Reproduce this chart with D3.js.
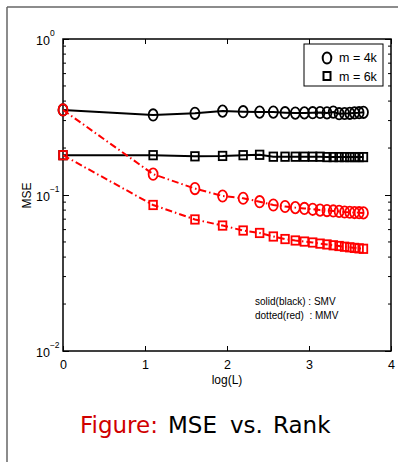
<!DOCTYPE html>
<html><head><meta charset="utf-8">
<script src="https://cdn.jsdelivr.net/npm/d3@7"></script>
<style>body{margin:0;background:#fff}svg{display:block}</style>
</head><body>
<svg id="c" width="398" height="462"></svg>
<script>
// log(L) for L = 1,3,5,...,39
const logL = [0, 1.099, 1.609, 1.946, 2.197, 2.398, 2.565, 2.708, 2.833, 2.944, 3.045, 3.135, 3.219, 3.296, 3.367, 3.434, 3.497, 3.555, 3.611, 3.664];
const smv4k = [0.351, 0.326, 0.334, 0.345, 0.342, 0.340, 0.340, 0.337, 0.335, 0.336, 0.337, 0.338, 0.336, 0.340, 0.332, 0.333, 0.334, 0.336, 0.337, 0.339];
const smv6k = [0.180, 0.180, 0.177, 0.178, 0.180, 0.181, 0.176, 0.176, 0.176, 0.176, 0.176, 0.176, 0.175, 0.175, 0.175, 0.175, 0.175, 0.175, 0.175, 0.175];
const mmv4k = [0.351, 0.136, 0.110, 0.0985, 0.0953, 0.0906, 0.0863, 0.0844, 0.0830, 0.0820, 0.0810, 0.0800, 0.0795, 0.0790, 0.0785, 0.0778, 0.0775, 0.0772, 0.0770, 0.0768];
const mmv6k = [0.180, 0.0863, 0.0697, 0.0637, 0.0592, 0.0571, 0.0542, 0.0522, 0.0511, 0.0503, 0.0496, 0.0488, 0.0482, 0.0476, 0.0471, 0.0466, 0.0462, 0.0458, 0.0455, 0.0452];
const xTicks = [0, 1, 2, 3, 4];
const yMajor = [0.01, 0.1, 1];
const yExp = ["−2", "−1", "0"];
const legendLabels = ["m = 4k", "m = 6k"];
const noteLines = ["solid(black) : SMV", "dotted(red)  : MMV"];
const captionWords = ["Figure:", "MSE", "vs.", "Rank"];

const svg = d3.select("#c");
const L = 63, R = 391, T = 39, B = 351;
const x = d3.scaleLinear().domain([0, 4]).range([L, R]);
const y = d3.scaleLog().domain([0.01, 1]).range([B, T]);
const font = "'Liberation Sans', Arial, sans-serif";

// outer beamer frame
svg.append("line").attr("x1", 7).attr("y1", 7).attr("x2", 398).attr("y2", 7).attr("stroke", "#666").attr("stroke-width", 1.5);
svg.append("line").attr("x1", 7).attr("y1", 7).attr("x2", 7).attr("y2", 462).attr("stroke", "#666").attr("stroke-width", 1.5);

// plot frame
svg.append("rect").attr("x", L).attr("y", T).attr("width", R - L).attr("height", B - T)
  .attr("fill", "none").attr("stroke", "#000").attr("stroke-width", 1.5);

// x axis
const gx = svg.append("g").attr("transform", `translate(0,${B})`)
  .call(d3.axisBottom(x).tickValues(xTicks).tickFormat(d3.format("d")).tickSize(-5).tickPadding(9));
gx.select(".domain").remove();
gx.selectAll("text").attr("font-family", font).attr("font-size", 12.5).attr("fill", "#000");
gx.selectAll("line").attr("stroke-width", 1);
const gxt = svg.append("g").attr("transform", `translate(0,${T})`)
  .call(d3.axisTop(x).tickValues(xTicks).tickFormat("").tickSize(-5));
gxt.select(".domain").remove();

// y axis major
const gy = svg.append("g").attr("transform", `translate(${L},0)`)
  .call(d3.axisLeft(y).tickValues(yMajor).tickFormat("").tickSize(-6));
gy.select(".domain").remove();
const gyr = svg.append("g").attr("transform", `translate(${R},0)`)
  .call(d3.axisRight(y).tickValues(yMajor).tickFormat("").tickSize(-6));
gyr.select(".domain").remove();

// minor ticks
const minor = [];
[0.01, 0.1].forEach(b => { for (let k = 2; k <= 9; k++) minor.push(b * k); });
svg.append("g").selectAll("line").data(minor).join("line")
  .attr("x1", L).attr("x2", L + 3).attr("y1", d => y(d)).attr("y2", d => y(d)).attr("stroke", "#000");
svg.append("g").selectAll("line").data(minor).join("line")
  .attr("x1", R).attr("x2", R - 3).attr("y1", d => y(d)).attr("y2", d => y(d)).attr("stroke", "#000");

// y labels 10^k
const yl = svg.append("g").selectAll("text").data(yMajor).join("text")
  .attr("x", 36).attr("y", d => y(d) + 5.5).attr("font-family", font).attr("font-size", 12.5);
yl.append("tspan").text("10");
yl.append("tspan").attr("dy", -9).attr("font-size", 8.5).text((d, i) => yExp[i]);

svg.append("text").attr("transform", `translate(30.5,195.5) rotate(-90)`).attr("text-anchor", "middle")
  .attr("font-family", font).attr("font-size", 12).text("MSE");
svg.append("text").attr("x", x(2)).attr("y", 384).attr("text-anchor", "middle")
  .attr("font-family", font).attr("font-size", 12).text("log(L)");

// series
const line = d3.line().x((d, i) => x(logL[i])).y(d => y(d));
const series = [
  {v: smv4k, c: "#000", dash: null, m: "o"},
  {v: smv6k, c: "#000", dash: null, m: "s"},
  {v: mmv4k, c: "#f00", dash: "7,3,1.5,3", m: "o"},
  {v: mmv6k, c: "#f00", dash: "7,3,1.5,3", m: "s"}
];
series.forEach(s => {
  svg.append("path").attr("d", line(s.v)).attr("fill", "none").attr("stroke", s.c)
    .attr("stroke-width", 2).attr("stroke-dasharray", s.dash);
  const g = svg.append("g");
  if (s.m === "o") {
    g.selectAll("ellipse").data(s.v).join("ellipse")
      .attr("cx", (d, i) => x(logL[i])).attr("cy", d => y(d)).attr("rx", 4.5).attr("ry", 5.7)
      .attr("fill", "none").attr("stroke", s.c).attr("stroke-width", 1.8);
  } else {
    g.selectAll("rect").data(s.v).join("rect")
      .attr("x", (d, i) => x(logL[i]) - 3.8).attr("y", d => y(d) - 4.2).attr("width", 7.6).attr("height", 8.4)
      .attr("fill", "none").attr("stroke", s.c).attr("stroke-width", 1.8);
  }
});

// legend
svg.append("rect").attr("x", 304).attr("y", 44).attr("width", 79).attr("height", 42)
  .attr("fill", "#fff").attr("stroke", "#000").attr("stroke-width", 1);
svg.append("ellipse").attr("cx", 327).attr("cy", 58).attr("rx", 4.3).attr("ry", 5.5)
  .attr("fill", "none").attr("stroke", "#000").attr("stroke-width", 2);
svg.append("rect").attr("x", 323.5).attr("y", 72).attr("width", 7).attr("height", 8)
  .attr("fill", "none").attr("stroke", "#000").attr("stroke-width", 2);
svg.append("g").selectAll("text").data(legendLabels).join("text")
  .attr("x", 339).attr("y", (d, i) => 62 + i * 18.5).attr("font-family", font).attr("font-size", 12.5).text(d => d);

// note
svg.append("g").selectAll("text").data(noteLines).join("text")
  .attr("x", 255).attr("y", (d, i) => 305 + i * 13.5).attr("font-family", font).attr("font-size", 10)
  .style("white-space", "pre").text(d => d);

// caption
const capX = [80, 168, 230, 273];
svg.append("g").selectAll("text").data(captionWords).join("text")
  .attr("x", (d, i) => capX[i]).attr("y", 433).attr("font-family", "'DejaVu Sans', sans-serif")
  .attr("font-size", 23).attr("fill", (d, i) => i === 0 ? "#d00000" : "#000").text(d => d);
</script>
</body></html>
